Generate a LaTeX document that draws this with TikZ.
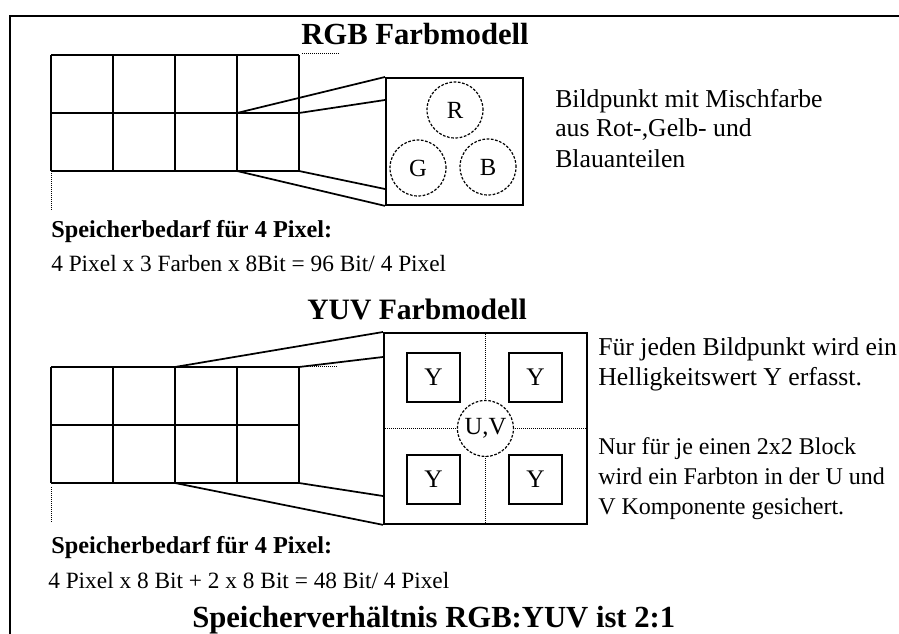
\documentclass[tikz,border=0pt]{standalone}
\usepackage{fontspec}
\setmainfont{Liberation Serif}
\begin{document}
\begin{tikzpicture}[x=0.75pt,y=-0.75pt,
  frame/.style={line width=1.5pt},
  gridline/.style={line width=1.4pt},
  zoomline/.style={line width=1.3pt},
  dotline/.style={line width=0.75pt,dash pattern=on 0.75pt off 0.75pt},
  bigbox/.style={draw,line width=1.4pt,inner sep=0pt,anchor=north west},
  ybox/.style={draw,line width=1.3pt,inner sep=0pt,minimum width=39.75pt,minimum height=36.5pt,font=\fontsize{19}{22}\selectfont},
  dcirc/.style={draw,circle,line width=0.9pt,dash pattern=on 2pt off 1.2pt,minimum size=42pt,inner sep=0pt,font=\fontsize{18.5}{22}\selectfont},
  title/.style={anchor=base west,inner sep=0pt,font=\bfseries\fontsize{23}{27}\selectfont},
  head/.style={anchor=base west,inner sep=0pt,font=\bfseries\fontsize{18.2}{22}\selectfont},
  formula/.style={anchor=base west,inner sep=0pt,font=\fontsize{17.5}{21}\selectfont},
  desc/.style={anchor=base west,inner sep=0pt,font=\fontsize{19.3}{23}\selectfont},
  descs/.style={anchor=base west,inner sep=0pt,font=\fontsize{18}{22}\selectfont}]
\useasboundingbox (0,0) rectangle (899,634);
\fill[white] (0,0) rectangle (899,634);
% frame
\draw[frame] (10,634) -- (10,16) -- (899,16);

% ---------- RGB ----------
\node[title] (rgbtitle) at (301,45) {RGB Farbmodell};
\foreach \x in {51,113,175,237,299} \draw[gridline] (\x,55) -- (\x,171);
\foreach \y in {55,113,171} \draw[gridline] (51,\y) -- (299,\y);
\draw[dotline] (302,54) -- (340,54);
\draw[dotline] (51,173) -- (51,211);
\coordinate (rp1) at (237,113);
\coordinate (rp2) at (299,113);
\coordinate (rp3) at (237,171);
\coordinate (rp4) at (299,171);
\node[bigbox,minimum width=102.75pt,minimum height=95.25pt] (rgbbox) at (385,77) {};
\coordinate (rb2) at (385,100);
\coordinate (rb4) at (385,189);
\draw[zoomline] (rp1) -- (rgbbox.north west);
\draw[zoomline] (rp2) -- (rb2);
\draw[zoomline] (rp3) -- (rgbbox.south west);
\draw[zoomline] (rp4) -- (rb4);
\node[dcirc] (R) at (455,110) {R};
\node[dcirc] (G) at (418,168) {G};
\node[dcirc] (B) at (488,167) {B};
\node[desc] (d1) at (555,108) {Bildpunkt mit Mischfarbe};
\node[desc] (d2) at (555,137) {aus Rot-,Gelb- und};
\node[desc] (d3) at (555,168) {Blauanteilen};
\node[head] (h1) at (51,238) {Speicherbedarf für 4 Pixel:};
\node[formula] (f1) at (51,272) {4 Pixel x 3 Farben x 8Bit = 96 Bit/ 4 Pixel};

% ---------- YUV ----------
\node[title,font=\bfseries\fontsize{22.2}{27}\selectfont] (yuvtitle) at (307,320) {YUV Farbmodell};
\foreach \x in {51,113,175,237,299} \draw[gridline] (\x,367) -- (\x,483);
\foreach \y in {367,425,483} \draw[gridline] (51,\y) -- (299,\y);
\draw[dotline] (310,367) -- (338,367);
\draw[dotline] (51,487) -- (51,523);
\coordinate (yp1) at (175,367);
\coordinate (yp2) at (299,367);
\coordinate (yp3) at (175,483);
\coordinate (yp4) at (299,483);
\node[bigbox,minimum width=152.25pt,minimum height=143.25pt] (yuvbox) at (383,332) {};
\coordinate (yb2) at (383,357);
\coordinate (yb4) at (383,496);
\draw[zoomline] (yp1) -- (yuvbox.north west);
\draw[zoomline] (yp2) -- (yb2);
\draw[zoomline] (yp3) -- (yuvbox.south west);
\draw[zoomline] (yp4) -- (yb4);
\draw[dotline] (yuvbox.north) -- (yuvbox.south);
\draw[dotline] (yuvbox.west) -- (yuvbox.east);
\node[dcirc,fill=white] (UV) at (yuvbox.center) {U,V};
\node[ybox] (Y1) at (433.5,377.5) {Y};
\node[ybox] (Y2) at (535.5,377.5) {Y};
\node[ybox] (Y3) at (433.5,479.5) {Y};
\node[ybox] (Y4) at (535.5,479.5) {Y};
\node[desc] (e1) at (598,355) {Für jeden Bildpunkt wird ein};
\node[desc] (e2) at (598,385) {Helligkeitswert Y erfasst.};
\node[descs] (e3) at (598,454) {Nur für je einen 2x2 Block};
\node[descs] (e4) at (598,484) {wird ein Farbton in der U und};
\node[descs] (e5) at (598,514) {V Komponente gesichert.};
\node[head] (h2) at (51,553) {Speicherbedarf für 4 Pixel:};
\node[formula] (f2) at (48,588) {4 Pixel x 8 Bit + 2 x 8 Bit = 48 Bit/ 4 Pixel};
\node[title] (ratio) at (192,627) {Speicherverhältnis RGB:YUV ist 2:1};
\end{tikzpicture}
\end{document}
